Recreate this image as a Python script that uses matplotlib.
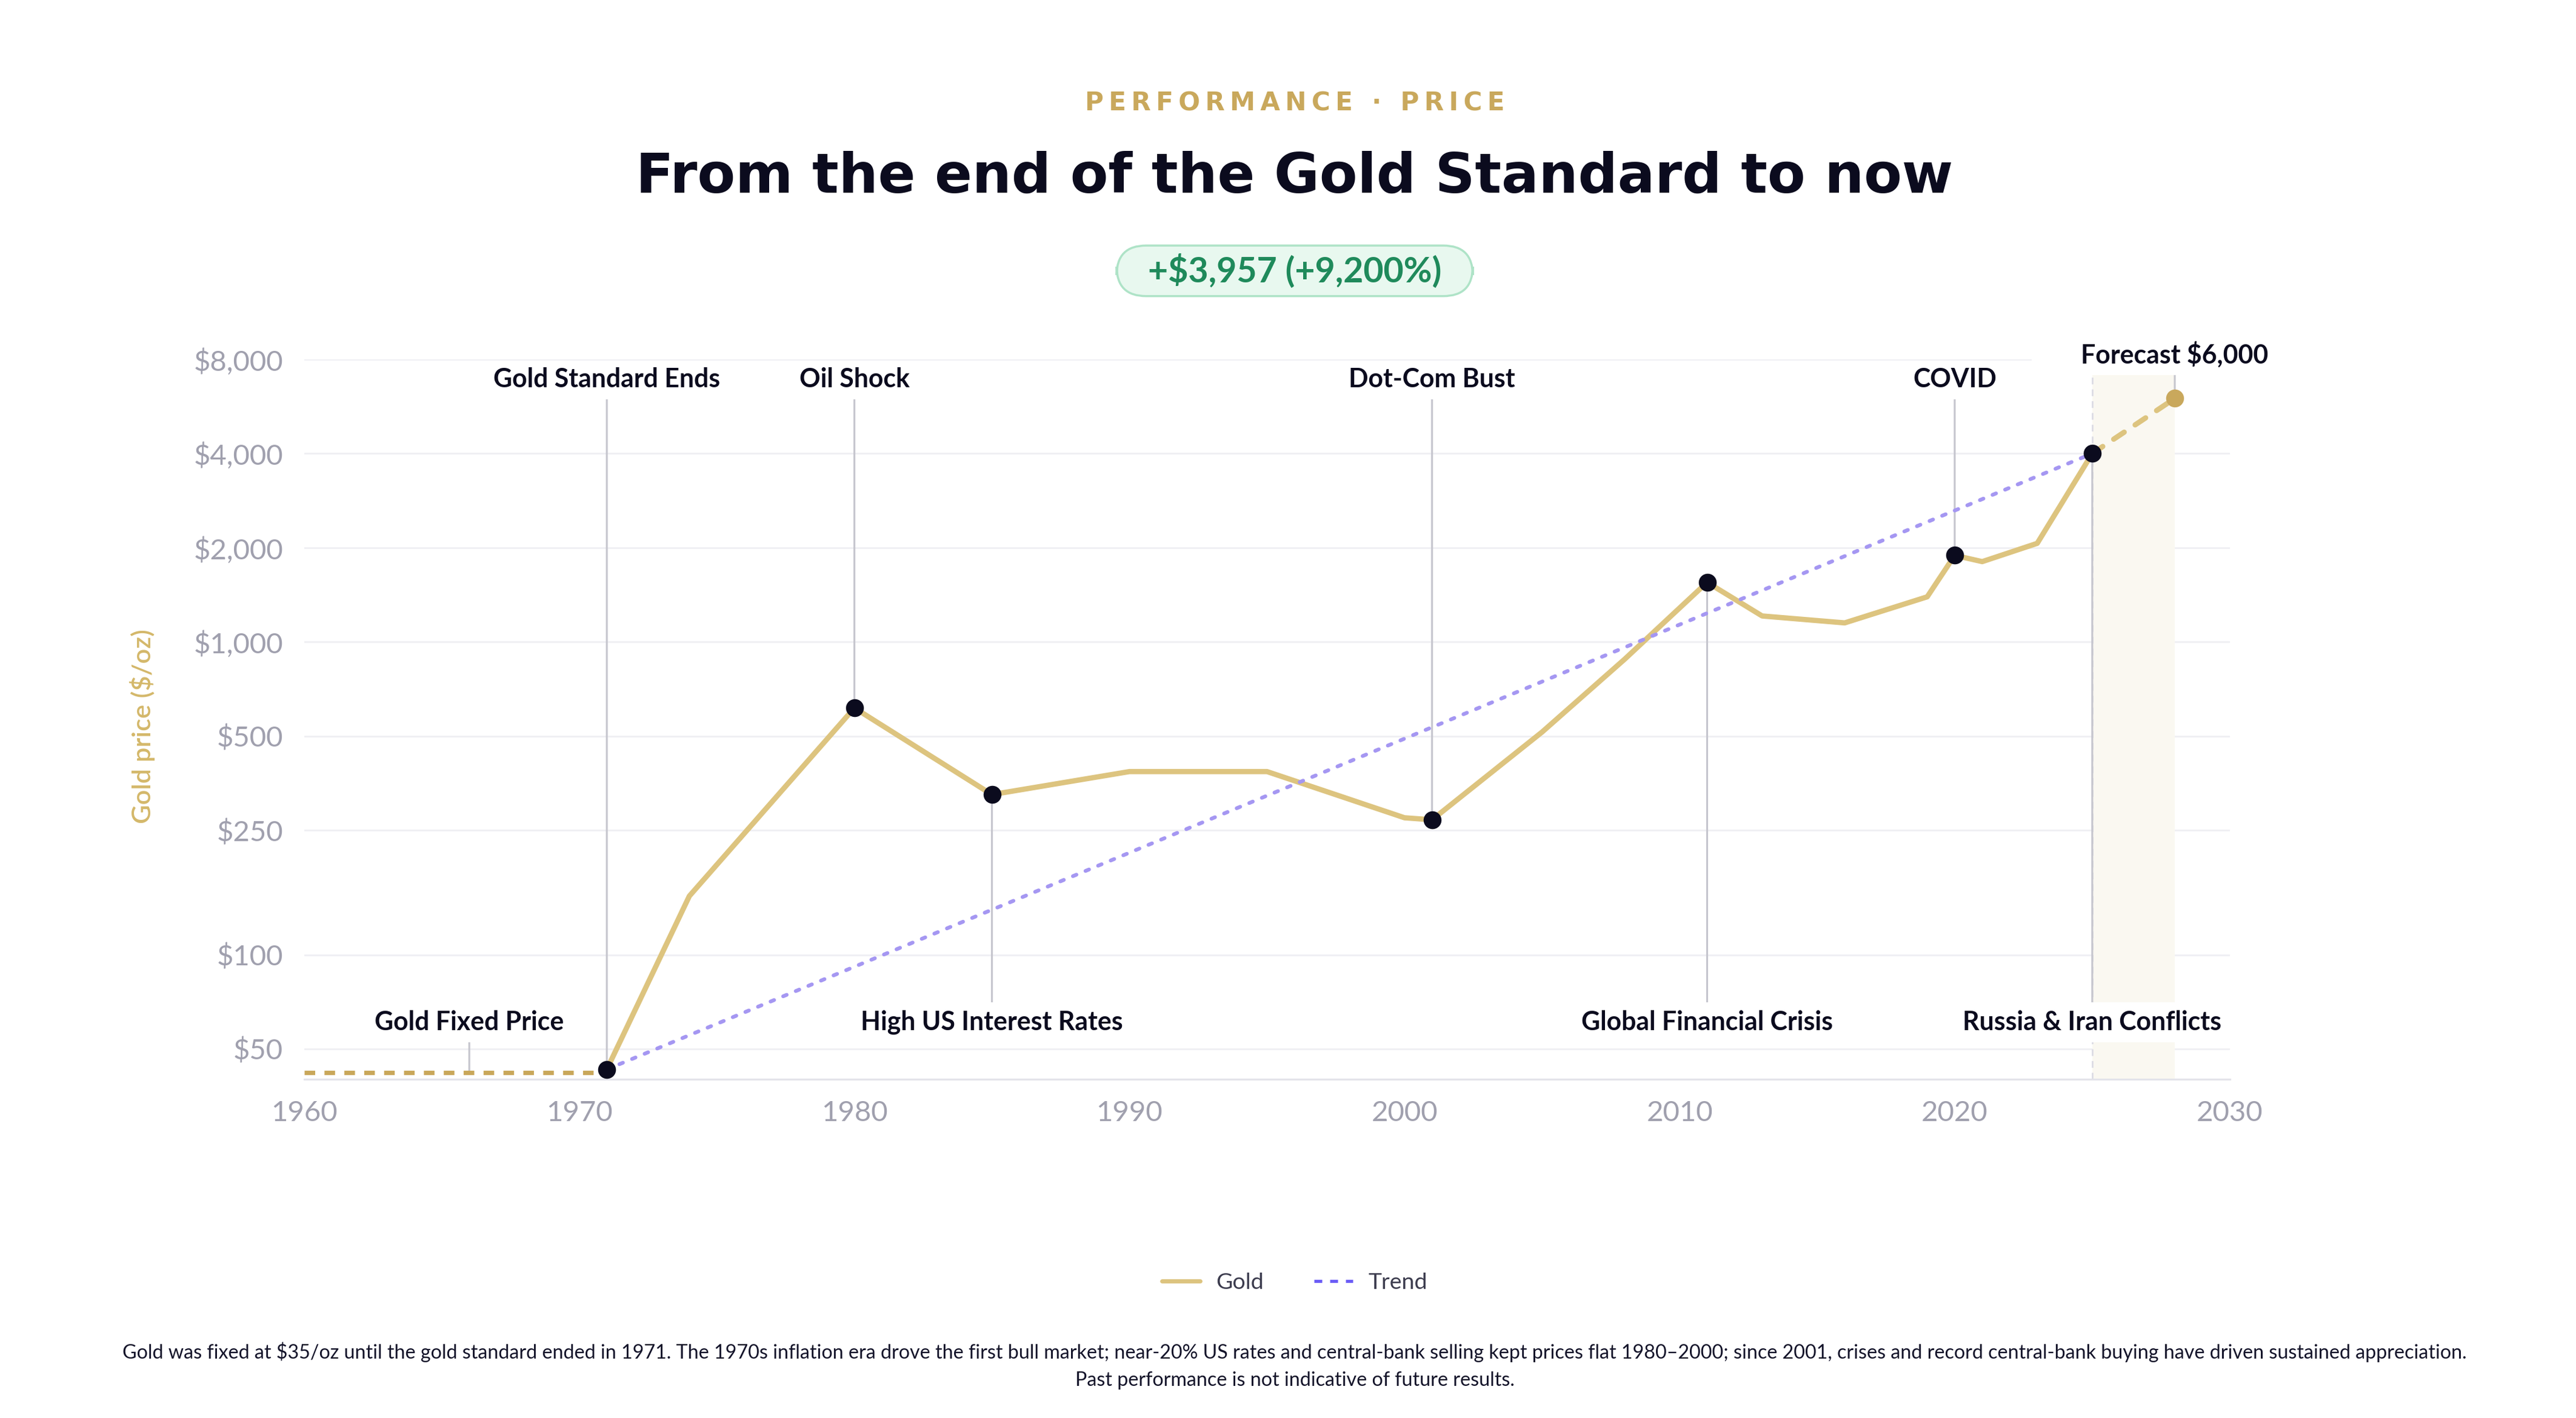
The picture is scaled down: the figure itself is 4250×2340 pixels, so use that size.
import matplotlib
matplotlib.use('Agg')
import matplotlib.pyplot as plt
from matplotlib.lines import Line2D
from matplotlib.patches import BoxStyle
from matplotlib.ticker import NullLocator

plt.rcParams['font.family'] = ['Lato', 'DejaVu Sans']

# data
fixed_years = [1960, 1971]
fixed_prices = [42, 42]

gold_years = [1971, 1974, 1980, 1985, 1990, 1995, 2000, 2001, 2005, 2008,
              2011, 2013, 2016, 2019, 2020, 2021, 2023, 2025]
gold_prices = [43, 154, 615, 325, 385, 385, 274, 270, 515, 880,
               1550, 1210, 1150, 1393, 1890, 1805, 2065, 4000]

forecast_years = [2025, 2028]
forecast_prices = [4000, 6000]

trend_years = [1971, 2025]
trend_prices = [43, 4000]

event_labels = ['Gold Fixed Price', 'Gold Standard Ends', 'Oil Shock',
                'High US Interest Rates', 'Dot-Com Bust', 'Global Financial Crisis',
                'COVID', 'Russia & Iran Conflicts', 'Forecast $6,000']
event_years = [1966, 1971, 1980, 1985, 2001, 2011, 2020, 2025, 2028]
event_prices = [42, 43, 615, 325, 270, 1550, 1890, 4000, 6000]
event_side = ['low', 'high', 'high', 'low', 'high', 'low', 'high', 'low', 'top']
event_dot = ['none', 'dark', 'dark', 'dark', 'dark', 'dark', 'dark', 'dark', 'gold']

ytick_vals = [50, 100, 250, 500, 1000, 2000, 4000, 8000]
ytick_labels = ['$50', '$100', '$250', '$500', '$1,000', '$2,000', '$4,000', '$8,000']
xtick_vals = [1960, 1970, 1980, 1990, 2000, 2010, 2020, 2030]

GOLD = '#DDC47F'
GOLD_DARK = '#C9A75A'
NAVY = '#0B0B1E'
GREY = '#A0A0AE'


def padded_box(px, ptop, pbot=None, rounding=None):
    # text box with separate horizontal / top / bottom padding (font-size units)
    if pbot is None:
        pbot = ptop

    def style(x0, y0, width, height, mutation_size):
        dx = px * mutation_size
        dt = ptop * mutation_size
        db = pbot * mutation_size
        if rounding is None:
            base = BoxStyle.Square(pad=0)
        else:
            base = BoxStyle.Round(pad=0, rounding_size=rounding)
        return base(x0 - dx, y0 - db, width + 2 * dx, height + dt + db, mutation_size)
    return style


fig = plt.figure(figsize=(17, 9.36), dpi=250)
ax = fig.add_axes([0.1181, 0.2389, 0.7475, 0.5077])

ax.set_yscale('log')
ax.set_xlim(1960, 2030)
ax.set_ylim(40, 8000)

# forecast zone
ax.axvspan(forecast_years[0], forecast_years[-1], color='#FAF8F1', lw=0, zorder=0.6)
ax.axvline(forecast_years[0], color='#DCDCE4', lw=0.8, ls=(0, (4, 3)), zorder=0.7)

ax.plot(fixed_years, fixed_prices, color=GOLD_DARK, lw=2.1, ls=(0, (2.4, 2.1)), zorder=3)
ax.plot(gold_years, gold_prices, color=GOLD, lw=2.5, solid_joinstyle='round',
        solid_capstyle='round', zorder=3)
ax.plot(forecast_years, forecast_prices, color=GOLD, lw=2.5, ls=(0, (2.4, 2.5)),
        dash_capstyle='round', zorder=3)
ax.plot(trend_years, trend_prices, color='#A597F2', lw=1.8, ls=(0, (1.0, 2.6)),
        dash_capstyle='round', zorder=4)

label_y = {'high': 0.972, 'low': 0.079, 'top': 1.007}
label_pad = {'high': (1.9, 0.0, 0.3), 'low': (1.9, 0.3, 0.3), 'top': (1.9, 0.3, 0.3)}
for lab, yr, pr, side in zip(event_labels, event_years, event_prices, event_side):
    ax.annotate(lab, xy=(yr, pr), xycoords='data',
                xytext=(yr, label_y[side]), textcoords=('data', 'axes fraction'),
                ha='center', va='center', fontsize=12.3, fontweight='bold', color=NAVY,
                bbox=dict(boxstyle=padded_box(*label_pad[side]), fc='white', ec='none'),
                arrowprops=dict(arrowstyle='-', color='#C6C6CE', lw=0.9,
                                shrinkA=0, shrinkB=0),
                annotation_clip=False, zorder=2)

for yr, pr, kind in zip(event_years, event_prices, event_dot):
    if kind == 'dark':
        ax.plot(yr, pr, 'o', color=NAVY, ms=8.5, mec='none', zorder=6)
    elif kind == 'gold':
        ax.plot(yr, pr, 'o', color='#C9A85C', ms=8.5, mec='none', zorder=6)

ax.set_yticks(ytick_vals)
ax.set_yticklabels(ytick_labels)
ax.yaxis.set_minor_locator(NullLocator())
ax.set_xticks(xtick_vals)
ax.tick_params(axis='both', length=0, labelsize=13.6, labelcolor=GREY)
ax.tick_params(axis='y', pad=10)
ax.tick_params(axis='x', pad=10)

ax.grid(axis='y', color='#EFEFF3', lw=0.8)
ax.set_axisbelow(True)
for s in ['top', 'right', 'left']:
    ax.spines[s].set_visible(False)
ax.spines['bottom'].set_color('#E3E3EA')
ax.spines['bottom'].set_linewidth(0.9)

fig.text(0.0554, 0.4876, 'Gold price ($/oz)', rotation=90, ha='center', va='center',
         fontsize=12.5, color='#D4B86A', fontweight='semibold')

# header
fig.text(0.5026, 0.927, '\u2009'.join('PERFORMANCE · PRICE'), ha='center', va='center',
         fontsize=12.1, fontweight='bold', color='#C9A85C', family='DejaVu Sans')
fig.text(0.5026, 0.875, 'From the end of the Gold Standard to now', ha='center', va='center',
         fontsize=26.3, fontweight='bold', color=NAVY, family='DejaVu Sans')
fig.text(0.5026, 0.809, '+$3,957 (+9,200%)', ha='center', va='center',
         fontsize=16.5, fontweight='bold', color='#1F8A5B',
         bbox=dict(boxstyle=padded_box(0.9, 0.23, rounding=0.85),
                   fc='#E8F8EF', ec='#AEE3C7', lw=1))

# legend
handles = [Line2D([], [], color=GOLD, lw=2.0, solid_capstyle='round'),
           Line2D([], [], color='#6B5CF6', lw=1.5, ls=(0, (2.5, 2.5)))]
fig.legend(handles, ['Gold', 'Trend'], loc='center', bbox_to_anchor=(0.5026, 0.0955),
           ncol=2, frameon=False, fontsize=10.8, handlelength=1.7, handletextpad=0.7,
           columnspacing=2.2, labelcolor='#3C3C4E')

# footer
fig.text(0.5026, 0.0465,
         'Gold was fixed at $35/oz until the gold standard ended in 1971. The 1970s inflation era '
         'drove the first bull market; near-20% US rates and central-bank selling kept prices flat '
         '1980\u20132000; since 2001, crises and record central-bank buying have driven sustained '
         'appreciation.', ha='center', va='center', fontsize=9.3, color='#14142A')
fig.text(0.5026, 0.0265, 'Past performance is not indicative of future results.',
         ha='center', va='center', fontsize=9.3, color='#14142A')

fig.savefig('out.png', dpi=250, facecolor='white')
